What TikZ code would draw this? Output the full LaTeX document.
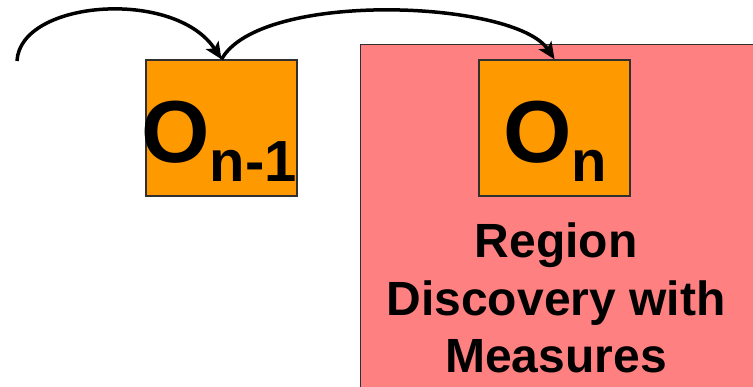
\documentclass[tikz,border=0pt]{standalone}
\usepackage{fontspec}
\setmainfont{Liberation Sans}
\usetikzlibrary{arrows.meta}
\definecolor{boxorange}{HTML}{FF9900}
\definecolor{regionpink}{HTML}{FF8080}
\definecolor{edgegray}{HTML}{303030}
\begin{document}
\begin{tikzpicture}[x=1pt,y=-1pt,
  obox/.style={draw=edgegray,line width=1.3pt,fill=boxorange,minimum width=151pt,minimum height=136pt,inner sep=0pt},
  otext/.style={anchor=base,inner sep=0pt,font=\bfseries},
  conn/.style={line width=3.5pt,-{Stealth[length=17pt,width=15pt,inset=4pt]}}
]
\useasboundingbox (0,0) rectangle (753,387);
% region rectangle (extends past the bottom)
\node[draw=edgegray,line width=1.3pt,fill=regionpink,minimum width=392.5pt,minimum height=360pt,inner sep=0pt,anchor=north west] (region) at (360,44) {};
\node[obox] (onm1) at (221.5,128) {};
\node[obox] (on) at (554.5,128) {};
\node[otext] (tnm1) at (219,163) {\fontsize{88}{88}\selectfont O\raisebox{-19pt}{\fontsize{58}{58}\selectfont n-1}};
\node[otext] (tn) at (555,163) {\fontsize{88}{88}\selectfont O\raisebox{-19pt}{\fontsize{58}{58}\selectfont n}};
\node[otext,align=center,font=\bfseries\fontsize{48}{57.5}\selectfont] (rtext) at (556,373) {Region\\Discovery with\\Measures};
\coordinate (start) at (17,61);
\draw[conn] (start) .. controls (20,0) and (175,-12) .. (onm1.north);
\draw[conn] (onm1.north) .. controls (260,-10) and (515,0) .. (on.north);
\end{tikzpicture}
\end{document}
